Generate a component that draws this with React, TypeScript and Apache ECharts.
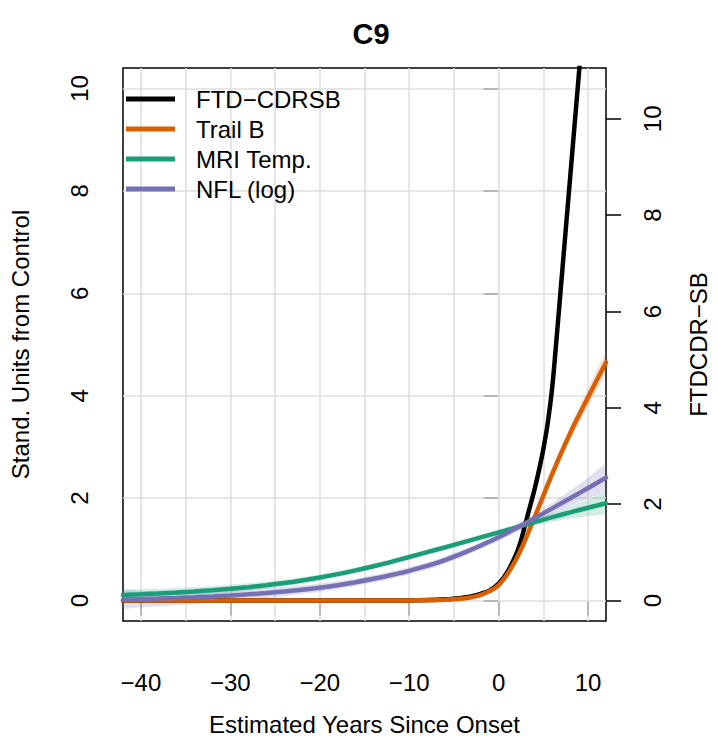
import React, { useEffect, useRef } from "react";
import * as echarts from "echarts";

// ---- data ----
const years = [-42, -40, -38, -36, -34, -32, -30, -28, -26, -24, -22, -20, -18, -16, -14, -12, -10, -8, -6, -4, -2, 0, 2, 4, 6, 8, 10, 12];

const mriTemp = [0.11, 0.123, 0.138, 0.156, 0.177, 0.201, 0.229, 0.261, 0.298, 0.341, 0.392, 0.45, 0.516, 0.589, 0.669, 0.756, 0.85, 0.944, 1.039, 1.135, 1.232, 1.33, 1.43, 1.53, 1.628, 1.722, 1.812, 1.9];
const mriTempHalf = [0.1, 0.095, 0.09, 0.088, 0.085, 0.082, 0.08, 0.075, 0.07, 0.066, 0.063, 0.06, 0.058, 0.056, 0.054, 0.052, 0.05, 0.05, 0.05, 0.05, 0.05, 0.05, 0.06, 0.07, 0.09, 0.12, 0.16, 0.2];

const nflLog = [0.02, 0.028, 0.038, 0.05, 0.064, 0.08, 0.099, 0.121, 0.146, 0.175, 0.209, 0.25, 0.299, 0.357, 0.424, 0.498, 0.58, 0.675, 0.79, 0.925, 1.075, 1.235, 1.415, 1.605, 1.8, 1.998, 2.198, 2.4];
const nflHalf = [0.17, 0.16, 0.15, 0.14, 0.13, 0.12, 0.11, 0.1, 0.095, 0.09, 0.085, 0.08, 0.078, 0.075, 0.073, 0.071, 0.07, 0.07, 0.07, 0.07, 0.07, 0.07, 0.08, 0.09, 0.11, 0.15, 0.2, 0.25];

const trailB = [0, 0, 0, 0, 0, 0, 0, 0, 0, 0, 0, 0, 0, 0, 0, 0, 0.002, 0.006, 0.016, 0.04, 0.11, 0.3, 0.82, 1.62, 2.48, 3.27, 3.97, 4.65];
const trailBHalf = [0.02, 0.02, 0.02, 0.02, 0.02, 0.02, 0.02, 0.02, 0.02, 0.02, 0.02, 0.02, 0.02, 0.02, 0.02, 0.02, 0.02, 0.02, 0.025, 0.03, 0.04, 0.05, 0.08, 0.1, 0.12, 0.14, 0.17, 0.2];

const cdrsbYears = [-42, -30, -20, -10, -8, -6, -5, -4, -3, -2, -1, 0, 1, 2, 2.5, 3, 3.5, 4, 4.5, 5, 5.5, 6, 6.5, 7, 7.5, 8, 8.5, 9, 9.5];
const cdrsb = [0, 0, 0, 0.003, 0.01, 0.025, 0.04, 0.06, 0.09, 0.14, 0.21, 0.35, 0.6, 0.98, 1.25, 1.6, 1.95, 2.3, 2.7, 3.15, 3.7, 4.45, 5.5, 6.6, 7.7, 8.8, 9.9, 11.0, 12.1];

const xTicks = [-40, -30, -20, -10, 0, 10];
const xGridLines = [-40, -35, -30, -25, -20, -15, -10, -5, 0, 5, 10];
const yTicks = [0, 2, 4, 6, 8, 10];
const rightTicks = [0, 2, 4, 6, 8, 10];

const seriesNames = ["FTD\u2212CDRSB", "Trail B", "MRI Temp.", "NFL (log)"];
const colors = ["#000000", "#D95F02", "#1B9E77", "#7570B3"];
const bandColors = ["rgba(217,95,2,0.18)", "rgba(27,158,119,0.2)", "rgba(117,112,179,0.22)"];

const FONT = "Liberation Sans, Arial, Helvetica, sans-serif";

function bandSeries(key: string, vals: number[], half: number[], color: string) {
  return {
    type: "custom",
    name: key + " band",
    data: vals.map((v, i) => [years[i], v - half[i], v + half[i]]),
    encode: { x: 0, y: [1, 2] },
    silent: true,
    clip: true,
    z: 2,
    renderItem: (params: any, api: any) => {
      if (params.dataIndex !== 0) return null;
      const pts: number[][] = [];
      for (let i = 0; i < years.length; i++) pts.push(api.coord([years[i], vals[i] + half[i]]));
      for (let i = years.length - 1; i >= 0; i--) pts.push(api.coord([years[i], vals[i] - half[i]]));
      return {
        type: "polygon",
        shape: { points: pts, smooth: 0.2 },
        style: { fill: color, stroke: "none" },
      };
    },
  };
}

function lineSeries(name: string, xs: number[], vals: number[], color: string, yAxisIndex: number, z: number, extra?: any) {
  const s: any = {
    type: "line",
    name,
    data: vals.map((v, i) => [xs[i], v]),
    yAxisIndex,
    symbol: "none",
    showSymbol: false,
    smooth: 0.35,
    clip: true,
    color,
    lineStyle: { color, width: 4.5, cap: "round" },
    emphasis: { disabled: true },
    z,
  };
  if (extra) Object.assign(s, extra);
  return s;
}

export default function App() {
  const ref = useRef<HTMLDivElement>(null);
  useEffect(() => {
    if (!ref.current) return;
    const chart = echarts.init(ref.current, null, { renderer: "svg" });
    const gridMark = {
      markLine: {
        silent: true,
        z: 1,
        symbol: ["none", "none"],
        symbolSize: 0,
        label: { show: false },
        emphasis: { disabled: true },
        lineStyle: { color: "#dedede", width: 1.5, type: "solid" },
        data: [
          ...xGridLines.map((v) => ({ xAxis: v })),
          ...yTicks.map((v) => ({ yAxis: v })),
        ],
      },
    };
    const option: any = {
      animation: false,
      backgroundColor: "#ffffff",
      textStyle: { fontFamily: FONT },
      title: {
        text: "C9",
        left: 366,
        top: 14,
        textAlign: "center",
        textStyle: { fontFamily: FONT, fontWeight: "bold", fontSize: 29, color: "#000" },
      },
      grid: {
        left: 120,
        right: 105,
        top: 68,
        bottom: 121,
        show: true,
        borderColor: "#000",
        borderWidth: 1.5,
        backgroundColor: "transparent",
      },
      legend: {
        data: seriesNames,
        orient: "vertical",
        left: 126,
        top: 87,
        padding: 0,
        icon: "rect",
        itemWidth: 49,
        itemHeight: 5,
        itemGap: 6,
        textStyle: { fontFamily: FONT, fontSize: 24, color: "#000", padding: [0, 0, 0, 16] },
      },
      xAxis: {
        type: "value",
        min: -42,
        max: 12,
        name: "Estimated Years Since Onset",
        nameLocation: "middle",
        nameGap: 91,
        nameTextStyle: { fontFamily: FONT, fontSize: 24, color: "#000" },
        axisLine: { show: false },
        axisTick: { show: true, length: 15, lineStyle: { color: "#000", width: 1.5 }, customValues: xTicks },
        axisLabel: {
          fontFamily: FONT,
          fontSize: 24,
          color: "#000",
          margin: 49,
          customValues: xTicks,
          formatter: (v: number) => (v < 0 ? "\u2212" + Math.abs(v) : String(v)),
        },
        splitLine: { show: false },
      },
      yAxis: [
        {
          type: "value",
          position: "left",
          min: -0.4,
          max: 10.4,
          name: "Stand. Units from Control",
          nameLocation: "middle",
          nameRotate: 90,
          nameGap: 91,
          nameTextStyle: { fontFamily: FONT, fontSize: 24, color: "#000" },
          axisLine: { show: false },
          axisTick: { show: true, length: 15, lineStyle: { color: "#000", width: 1.5 }, customValues: yTicks },
          axisLabel: { fontFamily: FONT, fontSize: 24, color: "#000", rotate: 90, margin: 32, customValues: yTicks },
          splitLine: { show: false },
        },
        {
          type: "value",
          position: "right",
          min: -0.425,
          max: 11.055,
          name: "FTDCDR\u2212SB",
          nameLocation: "middle",
          nameRotate: 90,
          nameGap: 80,
          nameTextStyle: { fontFamily: FONT, fontSize: 24, color: "#000" },
          axisLine: { show: false },
          axisTick: { show: true, length: 15, lineStyle: { color: "#000", width: 1.5 }, customValues: rightTicks },
          axisLabel: { fontFamily: FONT, fontSize: 24, color: "#000", rotate: 90, margin: 34, customValues: rightTicks },
          splitLine: { show: false },
        },
      ],
      series: [
        bandSeries("mri", mriTemp, mriTempHalf, bandColors[1]),
        bandSeries("nfl", nflLog, nflHalf, bandColors[2]),
        bandSeries("trail", trailB, trailBHalf, bandColors[0]),
        lineSeries(seriesNames[0], cdrsbYears, cdrsb, colors[0], 1, 3),
        lineSeries(seriesNames[1], years, trailB, colors[1], 0, 4, gridMark),
        lineSeries(seriesNames[2], years, mriTemp, colors[2], 0, 5),
        lineSeries(seriesNames[3], years, nflLog, colors[3], 0, 6),
      ],
    };
    chart.setOption(option);
    return () => chart.dispose();
  }, []);
  return (
    <div
      ref={ref}
      style={{ position: "fixed", left: 0, top: 0, width: 718, height: 742, background: "#fff" }}
    />
  );
}
